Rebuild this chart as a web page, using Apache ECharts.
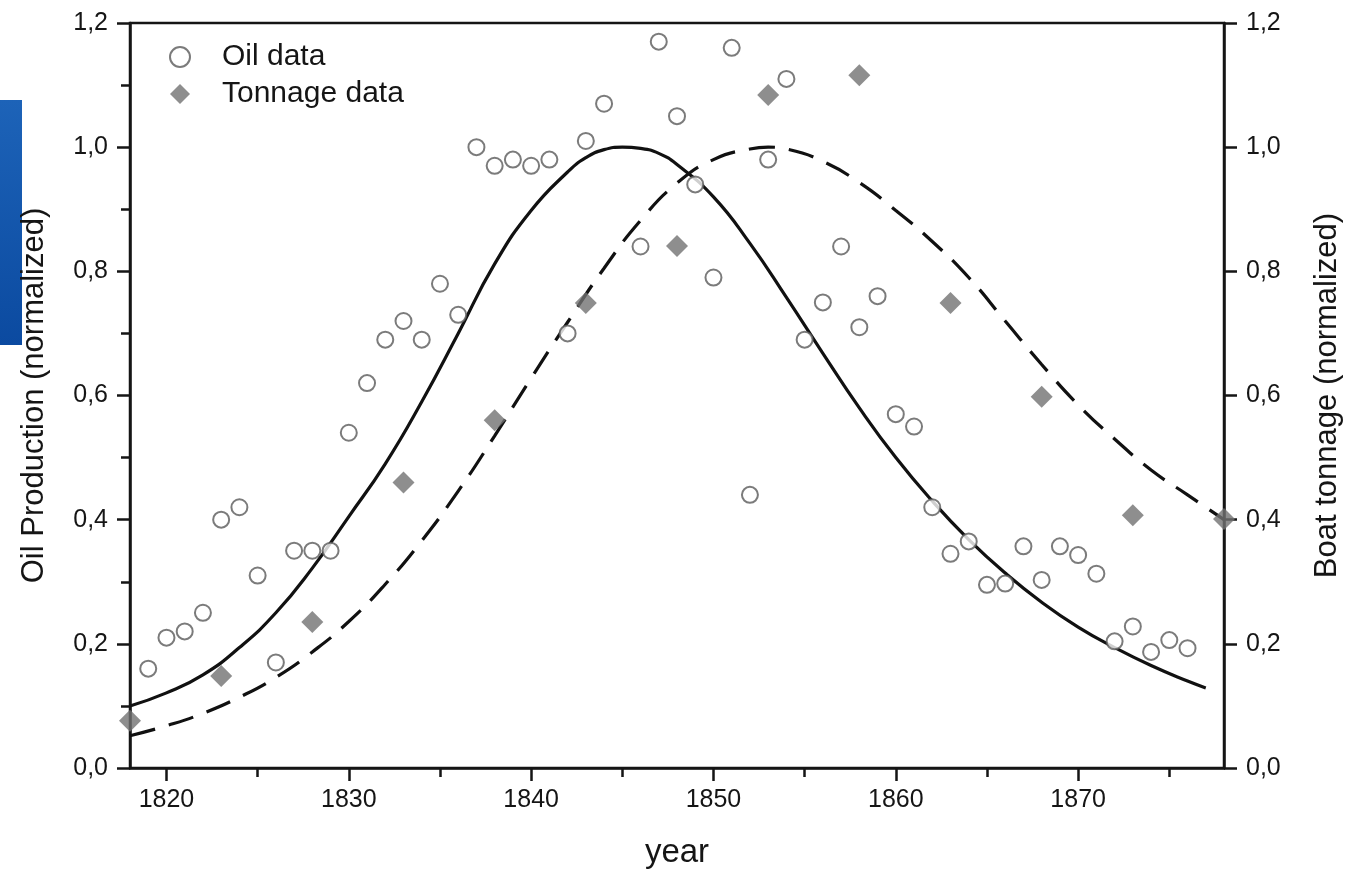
<!DOCTYPE html>
<html>
<head>
<meta charset="utf-8">
<script src="https://cdn.jsdelivr.net/npm/echarts@6/dist/echarts.min.js"></script>
<style>
html,body{margin:0;padding:0;background:#fff;}
#chart{width:1361px;height:871px;}
</style>
</head>
<body>
<div id="chart"></div>
<script>
// ---- data ----
const oilYears = [1819,1820,1821,1822,1823,1824,1825,1826,1827,1828,1829,1830,1831,1832,1833,1834,1835,1836,1837,1838,1839,1840,1841,1842,1843,1844,
                  1846,1847,1848,1849,1850,1851,1852,1853,1854,1855,1856,1857,1858,1859,1860,1861,1862,1863,1864,1865,1866,1867,1868,1869,1870,1871,1872,1873,1874,1875,1876];
const oilValues = [0.16,0.21,0.22,0.25,0.40,0.42,0.31,0.17,0.35,0.35,0.35,0.54,0.62,0.69,0.72,0.69,0.78,0.73,1.00,0.97,0.98,0.97,0.98,0.70,1.01,1.07,
                   0.84,1.17,1.05,0.94,0.79,1.16,0.44,0.98,1.11,0.69,0.75,0.84,0.71,0.76,0.57,0.55,0.42,0.345,0.365,0.295,0.297,0.357,0.303,0.357,0.343,0.313,0.204,0.228,0.187,0.206,0.193];

const tonYears = [1818,1823,1828,1833,1838,1843,1848,1853,1858,1863,1868,1873,1878];
const tonValues = [0.076,0.148,0.235,0.46,0.56,0.749,0.841,1.084,1.116,0.749,0.598,0.407,0.401];

const oilFitYears = [1818,1820,1822,1824,1826,1828,1830,1832,1834,1836,1838,1840,1842,1843,1844,1845,1846,1847,1848,1850,1852,1854,1856,1858,1860,1862,1864,1866,1868,1870,1872,1874,1876,1877];
const oilFitValues = [0.10,0.121,0.15,0.194,0.25,0.322,0.405,0.49,0.59,0.70,0.812,0.898,0.96,0.983,0.996,1.0,0.998,0.99,0.972,0.92,0.845,0.758,0.668,0.58,0.50,0.43,0.368,0.314,0.267,0.227,0.194,0.165,0.14,0.129];

const tonFitYears = [1818,1820,1822,1824,1826,1828,1830,1832,1834,1836,1838,1840,1842,1844,1846,1848,1850,1852,1853,1854,1856,1858,1860,1862,1864,1866,1868,1870,1872,1874,1876,1878];
const tonFitValues = [0.052,0.068,0.088,0.114,0.146,0.187,0.236,0.296,0.366,0.446,0.535,0.628,0.718,0.805,0.882,0.942,0.98,0.997,1.0,0.997,0.977,0.943,0.898,0.848,0.79,0.72,0.65,0.585,0.53,0.48,0.44,0.40];

const xMajorTicks = [1820,1830,1840,1850,1860,1870];
const xMinorTicks = [1825,1835,1845,1855,1865,1875];

const xTitle = 'year';
const yLeftTitle = 'Oil Production (normalized)';
const yRightTitle = 'Boat tonnage (normalized)';
const oilName = 'Oil data';
const tonName = 'Tonnage data';

// ---- build ----
const pairs = (xs, ys) => xs.map((x, i) => [x, ys[i]]);
const FONT = '"Liberation Sans", Arial, Helvetica, sans-serif';
const INK = '#151515';
const commaFmt = v => v.toFixed(1).replace('.', ',');

const chart = echarts.init(document.getElementById('chart'), null, {renderer: 'canvas'});
chart.setOption({
  backgroundColor: '#ffffff',
  animation: false,
  textStyle: {fontFamily: FONT},
  graphic: [{
    type: 'rect', left: 0, top: 100, shape: {width: 22, height: 245}, silent: true,
    style: {fill: new echarts.graphic.LinearGradient(0, 0, 0, 1, [{offset: 0, color: '#1d63b8'}, {offset: 1, color: '#0b4aa0'}])}
  }],
  grid: {left: 130, right: 137, top: 23, bottom: 103, containLabel: false, outerBoundsMode: 'none',
         show: true, borderColor: INK, borderWidth: 2.5, backgroundColor: 'transparent'},
  legend: {
    orient: 'vertical', left: 164, top: 35, itemGap: 3, itemWidth: 20, itemHeight: 20,
    textStyle: {fontSize: 30, color: INK, fontFamily: FONT, lineHeight: 34, padding: [0, 0, 0, 27]},
    data: [oilName, tonName]
  },
  xAxis: [{
    type: 'value', min: 1818, max: 1878, position: 'bottom',
    name: xTitle, nameLocation: 'middle', nameGap: 68,
    nameTextStyle: {fontSize: 33, color: INK, fontFamily: FONT},
    axisLine: {show: true, lineStyle: {color: INK, width: 2.5}},
    axisTick: {show: true, inside: false, length: 13, lineStyle: {color: INK, width: 2.5}, customValues: xMajorTicks},
    axisLabel: {show: true, fontSize: 25, color: INK, margin: 20, fontFamily: FONT, customValues: xMajorTicks, formatter: v => String(v)},
    splitLine: {show: false}
  }, {
    type: 'value', min: 1818, max: 1878, position: 'bottom',
    axisLine: {show: false},
    axisTick: {show: true, inside: false, length: 9, lineStyle: {color: INK, width: 2.5}, customValues: xMinorTicks},
    axisLabel: {show: false, customValues: xMinorTicks},
    splitLine: {show: false}
  }],
  yAxis: [{
    type: 'value', min: 0, max: 1.2, interval: 0.2, position: 'left',
    name: yLeftTitle, nameLocation: 'middle', nameGap: 80, nameRotate: 90,
    nameTextStyle: {fontSize: 31, color: INK, fontFamily: FONT},
    axisLine: {show: true, lineStyle: {color: INK, width: 2.5}},
    axisTick: {show: true, inside: false, length: 13, lineStyle: {color: INK, width: 2.5}},
    minorTick: {show: true, splitNumber: 2, length: 9, lineStyle: {color: INK, width: 2.5}},
    axisLabel: {fontSize: 25, color: INK, margin: 22, fontFamily: FONT, formatter: commaFmt},
    splitLine: {show: false}, minorSplitLine: {show: false}
  }, {
    type: 'value', min: 0, max: 1.2, interval: 0.2, position: 'right',
    name: yRightTitle, nameLocation: 'middle', nameGap: 88, nameRotate: 90,
    nameTextStyle: {fontSize: 31, color: INK, fontFamily: FONT},
    axisLine: {show: true, lineStyle: {color: INK, width: 2.5}},
    axisTick: {show: true, inside: false, length: 13, lineStyle: {color: INK, width: 2.5}},
    axisLabel: {fontSize: 25, color: INK, margin: 22, fontFamily: FONT, formatter: commaFmt},
    splitLine: {show: false}
  }],
  series: [{
    name: 'oilFit', type: 'line', xAxisIndex: 0, yAxisIndex: 0, smooth: 0.5, showSymbol: false, silent: true,
    data: pairs(oilFitYears, oilFitValues),
    lineStyle: {color: '#111', width: 3.2, type: 'solid'}, z: 2
  }, {
    name: 'tonFit', type: 'line', xAxisIndex: 0, yAxisIndex: 1, smooth: 0.5, showSymbol: false, silent: true,
    data: pairs(tonFitYears, tonFitValues),
    lineStyle: {color: '#111', width: 3.2, type: [26, 14]}, z: 2
  }, {
    name: oilName, type: 'scatter', xAxisIndex: 0, yAxisIndex: 0, symbol: 'circle', symbolSize: 16,
    data: pairs(oilYears, oilValues),
    itemStyle: {color: '#ffffff', borderColor: '#5a5a5a', borderWidth: 2}, z: 4
  }, {
    name: tonName, type: 'scatter', xAxisIndex: 0, yAxisIndex: 1, symbol: 'diamond', symbolSize: 22,
    data: pairs(tonYears, tonValues),
    itemStyle: {color: '#727272'}, z: 3
  }]
});
</script>
</body>
</html>
